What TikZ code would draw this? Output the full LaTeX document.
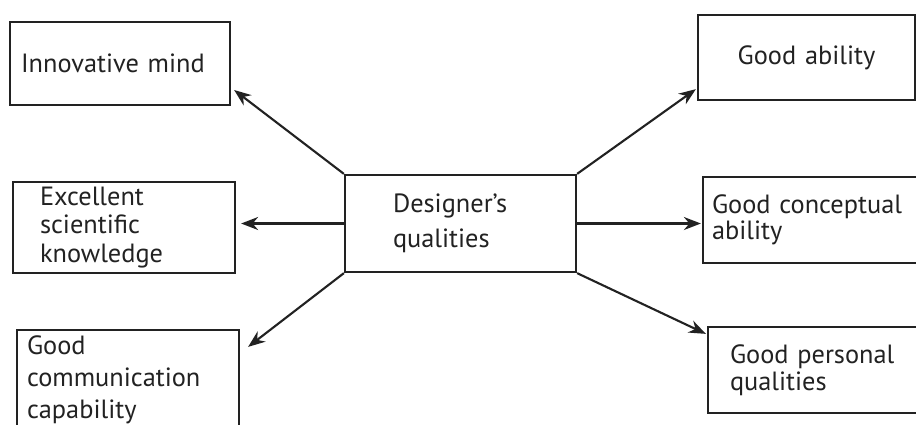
\documentclass[tikz,border=0pt]{standalone}
\usepackage{fontspec}
\setmainfont{PT Sans}
\usetikzlibrary{arrows.meta,positioning,calc}
\definecolor{ink}{HTML}{222222}
\newcommand\lead[1]{\fontsize{15}{#1}\selectfont}
\tikzset{
  box/.style ={draw=ink, fill=white, line width=1.3pt, text=ink,
               align=left, inner ysep=0pt, font=\lead{17}},
  arr/.style ={-{Stealth[length=3.4mm,width=2.6mm]}, line width=1.2pt,
               draw=ink},
}
\begin{document}
\begin{tikzpicture}[x=0.02cm,y=-0.02cm]
  \useasboundingbox (0,0) rectangle (916,424);
  \clip (0,0) rectangle (916,424);

  \node[box,text width=2.7cm,inner xsep=0.96cm,minimum height=1.94cm,
        font=\lead{19.8}] (qual) at (460.5,223.5) {Designer's\\qualities};

  \node[box,text width=3.96cm,inner xsep=0.22cm,minimum height=1.66cm]
    (mind) at (120,63.5) {Innovative mind};
  \node[box,text width=3.36cm,inner xsep=0.54cm,minimum height=1.82cm,
        font=\lead{16.4}] (know) at (124,227.5)
    {Excellent\\scientific\\knowledge};
  \node[box,text width=4.04cm,inner xsep=0.2cm,minimum height=2.0cm,
        font=\lead{18.1}] (comm) at (128,380)
    {Good\\communication\\capability};

  \node[box,align=center,text width=3.9cm,inner xsep=0.22cm,
        minimum height=1.7cm] (abil) at (806.5,57.5) {Good ability};
  \node[box,text width=4.18cm,inner xsep=0.18cm,minimum height=1.72cm,
        font=\lead{13.5}] (concept) at (816.5,220)
    {Good conceptual\\ability};
  \node[box,text width=3.56cm,inner xsep=0.44cm,minimum height=1.72cm,
        font=\lead{15.3}] (person) at (819,370)
    {Good personal\\qualities};

  \draw[arr] (qual.north west) -- ([shift={(0.06cm,-0.53cm)}]mind.east);
  \draw[arr] (qual.west) -- ([xshift=0.1cm]qual.west -| know.east);
  \draw[arr] (qual.south west) -- ([shift={(0.16cm,-0.36cm)}]comm.north east);
  \draw[arr] (qual.north east) -- ([shift={(-0.02cm,0.24cm)}]abil.south west);
  \draw[arr] (qual.east) -- ([xshift=-0.02cm]qual.east -| concept.west);
  \draw[arr] (qual.south east) -- ([shift={(-0.02cm,-0.16cm)}]person.north west);
\end{tikzpicture}
\end{document}
